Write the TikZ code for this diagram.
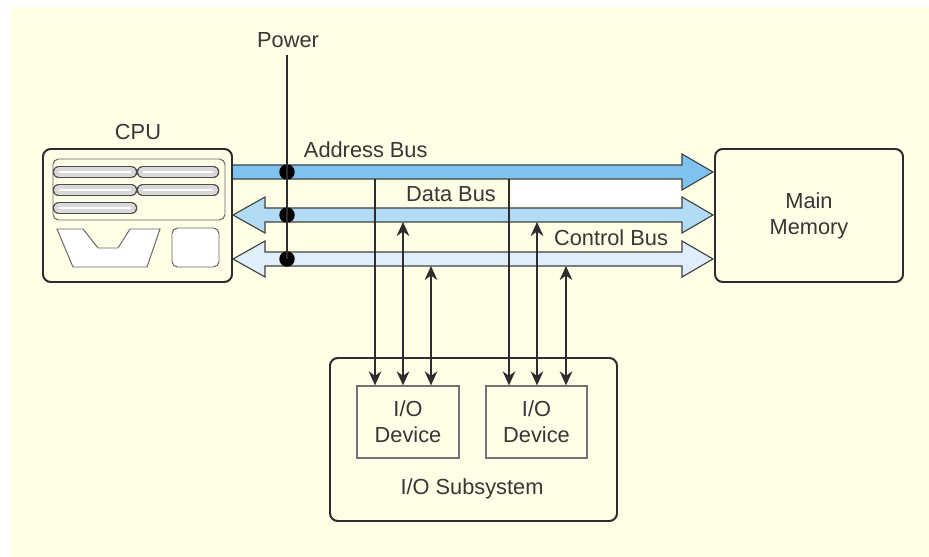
\documentclass[tikz,border=0pt]{standalone}
\usepackage{fontspec}
\setmainfont{Liberation Sans}
\usetikzlibrary{arrows.meta,fit}
\definecolor{bgcol}{RGB}{255,254,230}
\definecolor{acol}{RGB}{125,195,237}
\definecolor{dcol}{RGB}{178,219,245}
\definecolor{ccol}{RGB}{222,238,250}
\definecolor{lcol}{RGB}{45,45,45}
\definecolor{tcol}{RGB}{55,55,55}
\tikzset{box/.style={draw=lcol,line width=1.4pt,rounded corners=5.5pt,inner sep=0pt,fill=bgcol}}
\tikzset{dev/.style={draw=gray!90!black,line width=0.9pt,inner sep=0pt,fill=bgcol}}
\tikzset{part/.style={draw=gray!80!black,line width=0.7pt}}
\tikzset{pill/.style={line cap=round,draw=gray!60!black,line width=0.9pt,double=gray!30,double distance=7.2pt}}
\tikzset{bus/.style={draw=gray!50!black,line width=0.8pt,line join=miter}}
\tikzset{dot/.style={circle,fill=black,inner sep=0pt,minimum size=11pt}}
\tikzset{wire/.style={line width=1pt,draw=lcol}}
\tikzset{edge/.style={wire,-{Stealth[length=10pt,width=9pt]}}}
\tikzset{edges/.style={wire,{Stealth[length=10pt,width=9pt]}-{Stealth[length=10pt,width=9pt]}}}
\begin{document}
\begin{tikzpicture}[x=0.025cm,y=-0.025cm,text=tcol,font=\fontsize{15.5pt}{18.5pt}\selectfont]
\useasboundingbox (0,0) rectangle (929,557);
\fill[bgcol] (11,7) rectangle (929,557);

\filldraw[bus,fill=acol] (232,165) -- (682,165) -- (682,154) -- (713,172) -- (682,190) -- (682,179) -- (232,179);
\filldraw[bus,fill=dcol] (233,215) -- (265,197) -- (265,208) -- (682,208) -- (682,197) -- (713,215) -- (682,233) -- (682,222) -- (265,222) -- (265,233) -- cycle;
\filldraw[bus,fill=ccol] (233,259) -- (265,241) -- (265,252) -- (682,252) -- (682,241) -- (713,259) -- (682,277) -- (682,266) -- (265,266) -- (265,277) -- cycle;
\fill[white] (512,180) rectangle (681,206);

\node[box,fit={(43,149) (232,282)}] (cpu) {};
\node at (138,132) {CPU};
\draw[part,rounded corners=4pt] (53,159) rectangle (225,220);
\draw[pill] (59,172) -- (131,172);
\draw[pill] (143,172) -- (213,172);
\draw[pill] (59,190) -- (131,190);
\draw[pill] (143,190) -- (213,190);
\draw[pill] (59,208) -- (131,208);
\draw[white,line width=1.3pt] (59,172) -- (131,172) (143,172) -- (213,172) (59,190) -- (131,190) (143,190) -- (213,190) (59,208) -- (131,208);
\filldraw[part,fill=white] (57,229) -- (83,229) -- (98,248) -- (118,248) -- (130,229) -- (160,229) -- (147,267) -- (73,267) -- cycle;
\filldraw[part,fill=white,rounded corners=4pt] (172,228) rectangle (219,267);

\node[box,fit={(715,149) (903,282)},label={[align=center]center:Main\\Memory}] (mem) {};

\node[box,fit={(330,358) (617,521)}] (io) {};
\node[dev,fit={(357,386) (459,458)},label={[align=center]center:I/O\\Device}] (dev1) {};
\node[dev,fit={(486,386) (587,458)},label={[align=center]center:I/O\\Device}] (dev2) {};
\node at (472,489) {I/O Subsystem};

\node[anchor=west] at (299,150) {Address Bus};
\node at (451,194) {Data Bus};
\node at (611,238) {Control Bus};

\node (pwr) at (288,40) {Power};
\coordinate (ptop) at (287,55);
\node[dot] (p1) at (287,172) {};
\node[dot] (p2) at (287,215) {};
\node[dot] (p3) at (287,259) {};
\draw[wire] (ptop) -- (p3.center);

\coordinate (a1) at (375,179);
\coordinate (a2) at (509,179);
\coordinate (d1) at (403,222);
\coordinate (d2) at (537,222);
\coordinate (c1) at (431,266);
\coordinate (c2) at (566,266);

\draw[edge] (a1) -- (a1 |- dev1.north);
\draw[edges] (d1) -- (d1 |- dev1.north);
\draw[edges] (c1) -- (c1 |- dev1.north);

\draw[edge] (a2) -- (a2 |- dev2.north);
\draw[edges] (d2) -- (d2 |- dev2.north);
\draw[edges] (c2) -- (c2 |- dev2.north);
\end{tikzpicture}
\end{document}
